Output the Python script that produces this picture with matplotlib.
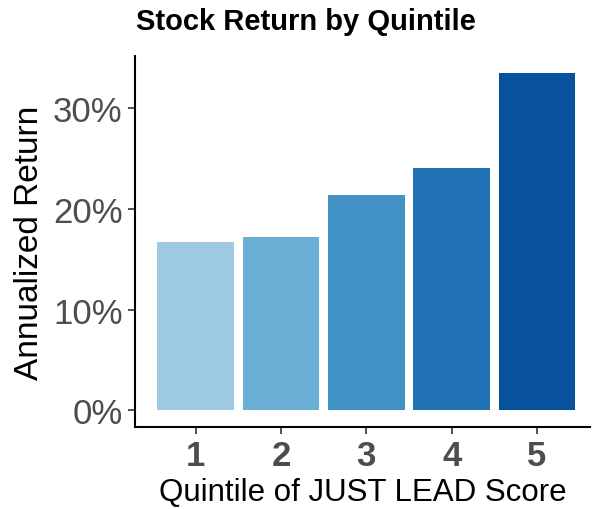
import matplotlib.pyplot as plt

quintiles = ["1", "2", "3", "4", "5"]
returns = [16.7, 17.2, 21.4, 24.1, 33.5]
colors = ["#9ECAE1", "#6BAED6", "#4292C6", "#2171B5", "#08519C"]
y_ticks = [0, 10, 20, 30]

plt.rcParams['font.family'] = ['Liberation Sans', 'DejaVu Sans']

fig = plt.figure(figsize=(5.95, 5.1), dpi=100)
ax = fig.add_axes([135 / 595, 82 / 510, 455 / 595, 371 / 510])

x = range(1, len(quintiles) + 1)
ax.bar(x, returns, width=0.9, color=colors)

ax.set_xlim(0.29, 5.62)
ax.set_ylim(-1.68, 35.2)
ax.set_xticks(list(x))
ax.set_xticklabels(quintiles, fontsize=25, fontweight='bold', color='#4D4D4D')
ax.set_yticks(y_ticks)
ax.set_yticklabels([f"{v}%" for v in y_ticks], fontsize=25, color='#4D4D4D')
ax.tick_params(axis='both', length=5, width=1.2, color='#333333', pad=4)

for side in ['top', 'right']:
    ax.spines[side].set_visible(False)
for side in ['left', 'bottom']:
    ax.spines[side].set_linewidth(1.5)

ax.set_xlabel("Quintile of JUST LEAD Score", fontsize=22.5, labelpad=3)
ax.set_ylabel("Annualized Return", fontsize=24, labelpad=6)
fig.text(136 / 595, 1 - 22 / 510, "Stock Return by Quintile", fontsize=21,
         fontweight='bold', ha='left', va='center')

fig.savefig("out.png", dpi=100)
